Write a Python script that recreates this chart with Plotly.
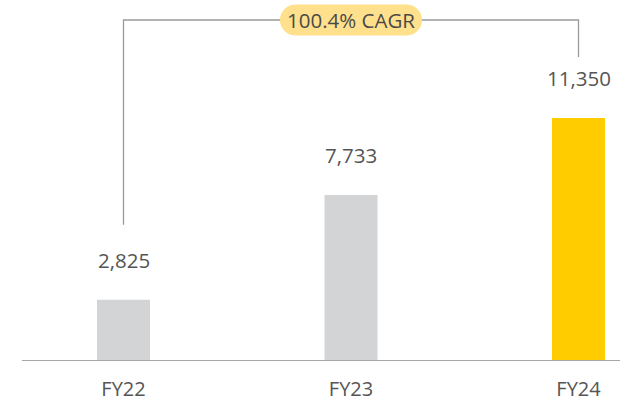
import numpy as np
import plotly.graph_objects as go

# Revenue by fiscal year
categories = ["FY22", "FY23", "FY24"]
values = [2825, 7733, 11350]
value_labels = ["2,825", "7,733", "11,350"]
bar_colors = ["#D3D4D6", "#D3D4D6", "#FFCC00"]
cagr_text = "100.4% CAGR"

FONT = "Open Sans"
TEXT_COLOR = "#555555"
LINE_COLOR = "#9A9A9A"

W, H = 620, 406
M_L, M_R, M_T, M_B = 22, 0, 0, 46
plot_h = H - M_T - M_B

# vertical scale: tallest bar spans 242 px of the 360 px plot height
y_top = values[-1] * plot_h / 242.0
upp = y_top / plot_h  # data units per pixel

fig = go.Figure()
fig.add_trace(go.Bar(
    x=categories,
    y=values,
    marker=dict(color=bar_colors, line=dict(width=0)),
    width=0.233,
    hoverinfo="skip",
))

# value labels above the bars
for cat, v, lab in zip(categories, values, value_labels):
    fig.add_annotation(
        x=cat, y=v, text=lab, showarrow=False,
        yanchor="middle", yshift=40,
        font=dict(family=FONT, size=20.5, color=TEXT_COLOR),
    )

# CAGR bracket from first to last bar
bracket_y = y_top - 20 * upp
left_end = values[0] + 75 * upp
right_end = values[-1] + 61 * upp
fig.add_shape(type="path",
              path=f"M 0,{left_end} L 0,{bracket_y} L 2,{bracket_y} L 2,{right_end}",
              xref="x", yref="y",
              line=dict(color=LINE_COLOR, width=1.3))

# pill behind the CAGR text
pw, ph = 142, 31
r = ph / 2
t1 = np.linspace(np.pi / 2, -np.pi / 2, 24)
t2 = np.linspace(-np.pi / 2, -3 * np.pi / 2, 24)
pts = [((pw / 2 - r) + r * np.cos(t), r * np.sin(t)) for t in t1]
pts += [(-(pw / 2 - r) + r * np.cos(t), r * np.sin(t)) for t in t2]
pill_path = "M " + " L ".join(f"{px:.2f},{py:.2f}" for px, py in pts) + " Z"
fig.add_shape(type="path", path=pill_path,
              xref="x", yref="y", xsizemode="pixel", ysizemode="pixel",
              xanchor=1, yanchor=bracket_y,
              fillcolor="#FFE08C", line=dict(width=0))
fig.add_annotation(
    x=1, y=bracket_y, text=cagr_text, showarrow=False,
    yanchor="middle", xanchor="center",
    font=dict(family=FONT, size=20.5, color="#4A4A4A"),
)

x_lo = -(123.5 - M_L) / 227.5
x_hi = (W - 123.5) / 227.5

fig.update_layout(
    width=W, height=H,
    margin=dict(l=M_L, r=M_R, t=M_T, b=M_B),
    paper_bgcolor="white", plot_bgcolor="white",
    showlegend=False,
    xaxis=dict(
        range=[x_lo, x_hi], type="category",
        showgrid=False, zeroline=False,
        showline=True, linecolor="#A6A6A6", linewidth=1.3,
        ticks="", tickfont=dict(family=FONT, size=20, color=TEXT_COLOR),
        ticklabelstandoff=11,
    ),
    yaxis=dict(
        range=[0, y_top], visible=False, showgrid=False, zeroline=False,
    ),
)

fig.write_html("out.html")
